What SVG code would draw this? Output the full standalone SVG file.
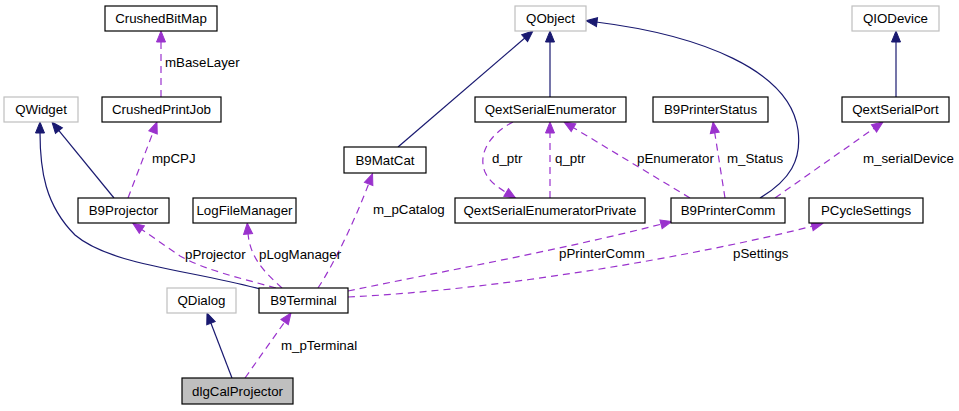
<svg xmlns="http://www.w3.org/2000/svg" width="959" height="411" viewBox="0 0 959 411">
<style>
.n rect{fill:#fff;stroke:#000;stroke-width:1.2}
.g rect{fill:#fff;stroke:#bfbfbf;stroke-width:1.2}
.c rect{fill:#bfbfbf;stroke:#000;stroke-width:1.2}
text{font-family:"Liberation Sans",Arial,sans-serif;font-size:13.3px;fill:#000}
.nt{text-anchor:middle}
.inh{fill:none;stroke:#191970;stroke-width:1.2}
.use{fill:none;stroke:#9a32cd;stroke-width:1.2;stroke-dasharray:7,5}
</style>
<defs>
<marker id="an" markerUnits="userSpaceOnUse" markerWidth="12" markerHeight="10" refX="1" refY="4.5" orient="auto" overflow="visible"><path d="M0,0 L11,4.5 L0,9 z" fill="#191970" stroke="#191970"/></marker>
<marker id="ap" markerUnits="userSpaceOnUse" markerWidth="12" markerHeight="10" refX="1" refY="4.5" orient="auto" overflow="visible"><path d="M0,0 L11,4.5 L0,9 z" fill="#9a32cd" stroke="#9a32cd"/></marker>
</defs>
<g id="connectors">
<path class="use" marker-end="url(#ap)" d="M161,97 L161,41"/>
<path class="use" marker-end="url(#ap)" d="M128,198 L153.4,131.4"/>
<path class="inh" marker-end="url(#an)" d="M114,198 L58.3,129.8"/>
<path class="inh" marker-end="url(#an)" d="M260,289 C190,270 110,265 75,235 C45,205 40,170 40,132"/>
<path class="use" marker-end="url(#ap)" d="M276,288 C240,278 205,270 180,256 L141,229"/>
<path class="use" marker-end="url(#ap)" d="M282,288 C268,275 250,260 248,233"/>
<path class="use" marker-end="url(#ap)" d="M318,288 C335,262 355,220 369,183"/>
<path class="inh" marker-end="url(#an)" d="M398,147 L525.4,37.5"/>
<path class="inh" marker-end="url(#an)" d="M550,97 L550,41"/>
<path class="inh" marker-end="url(#an)" d="M896,97 L896,41"/>
<path class="use" marker-end="url(#ap)" d="M513,122 C488,135 478,155 485,172 C489,181 497,187 507,193"/>
<path class="use" marker-end="url(#ap)" d="M550,198 L550,132"/>
<path class="use" marker-end="url(#ap)" d="M690,198 L572.6,127.2"/>
<path class="use" marker-end="url(#ap)" d="M725,198 L714.6,131.9"/>
<path class="inh" marker-end="url(#an)" d="M760,198 C790,180 802,160 798,130 C790,70 700,35 596,22"/>
<path class="use" marker-end="url(#ap)" d="M775,198 L874.8,127.8"/>
<path class="use" marker-end="url(#ap)" d="M348,291 C450,270 560,250 662,224"/>
<path class="use" marker-end="url(#ap)" d="M348,297 C500,290 700,255 813,226"/>
<path class="inh" marker-end="url(#an)" d="M232,378 L210.6,322.3"/>
<path class="use" marker-end="url(#ap)" d="M245,378 L285.2,321.2"/>
<text x="165" y="67">mBaseLayer</text>
<text x="152" y="163">mpCPJ</text>
<text x="185" y="259">pProjector</text>
<text x="259" y="259">pLogManager</text>
<text x="373" y="214">m_pCatalog</text>
<text x="492" y="163">d_ptr</text>
<text x="555" y="163">q_ptr</text>
<text x="637" y="163">pEnumerator</text>
<text x="727" y="163">m_Status</text>
<text x="863" y="163">m_serialDevice</text>
<text x="559" y="258">pPrinterComm</text>
<text x="733" y="258">pSettings</text>
<text x="281" y="350">m_pTerminal</text>
</g>
<g id="CrushedBitMap" class="n"><rect x="105" y="6" width="112" height="25"/><text class="nt" x="161" y="23">CrushedBitMap</text></g>
<g id="QWidget" class="g"><rect x="4" y="97" width="74" height="25"/><text class="nt" x="41" y="114">QWidget</text></g>
<g id="CrushedPrintJob" class="n"><rect x="102" y="97" width="119" height="25"/><text class="nt" x="161.5" y="114">CrushedPrintJob</text></g>
<g id="QObject" class="g"><rect x="515" y="6" width="71" height="25"/><text class="nt" x="550.5" y="23">QObject</text></g>
<g id="QIODevice" class="g"><rect x="852" y="6" width="87" height="25"/><text class="nt" x="895.5" y="23">QIODevice</text></g>
<g id="QextSerialEnumerator" class="n"><rect x="475" y="97" width="151" height="25"/><text class="nt" x="550.5" y="114">QextSerialEnumerator</text></g>
<g id="B9PrinterStatus" class="n"><rect x="653" y="97" width="115" height="25"/><text class="nt" x="710.5" y="114">B9PrinterStatus</text></g>
<g id="QextSerialPort" class="n"><rect x="842" y="97" width="107" height="25"/><text class="nt" x="895.5" y="114">QextSerialPort</text></g>
<g id="B9MatCat" class="n"><rect x="344" y="147" width="82" height="26"/><text class="nt" x="385" y="164.5">B9MatCat</text></g>
<g id="B9Projector" class="n"><rect x="78" y="198" width="91" height="25"/><text class="nt" x="123.5" y="215">B9Projector</text></g>
<g id="LogFileManager" class="n"><rect x="193" y="198" width="103" height="25"/><text class="nt" x="244.5" y="215">LogFileManager</text></g>
<g id="QextSerialEnumeratorPrivate" class="n"><rect x="455" y="198" width="190" height="25"/><text class="nt" x="550" y="215">QextSerialEnumeratorPrivate</text></g>
<g id="B9PrinterComm" class="n"><rect x="671" y="198" width="114" height="25"/><text class="nt" x="728" y="215">B9PrinterComm</text></g>
<g id="PCycleSettings" class="n"><rect x="809" y="198" width="114" height="25"/><text class="nt" x="866" y="215">PCycleSettings</text></g>
<g id="QDialog" class="g"><rect x="167" y="288" width="69" height="25"/><text class="nt" x="201.5" y="305">QDialog</text></g>
<g id="B9Terminal" class="n"><rect x="259" y="288" width="89" height="25"/><text class="nt" x="303.5" y="305">B9Terminal</text></g>
<g id="dlgCalProjector" class="c"><rect x="182" y="378" width="111" height="26"/><text class="nt" x="237.5" y="395.5">dlgCalProjector</text></g>
</svg>
